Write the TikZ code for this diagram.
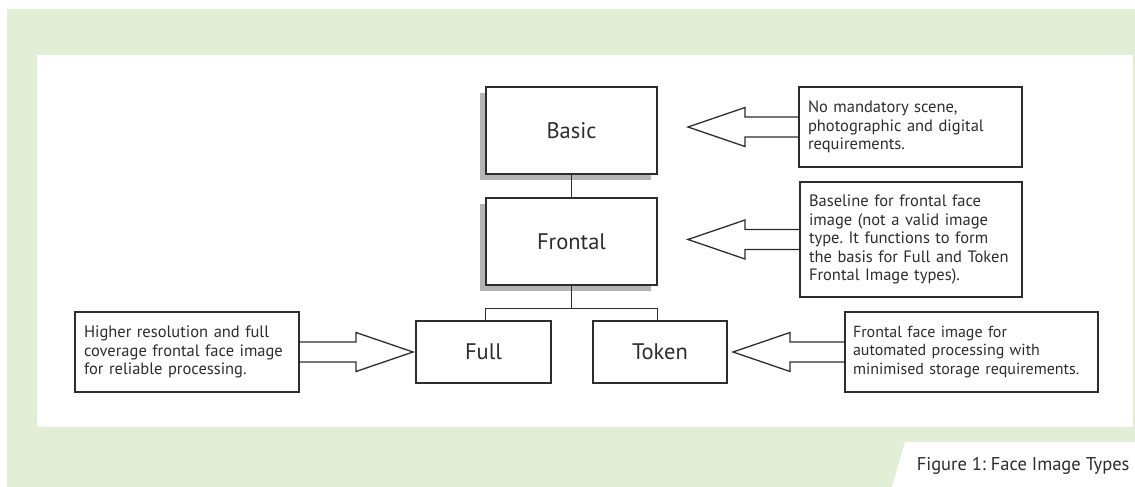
\documentclass[tikz,border=0pt]{standalone}
\usepackage{fontspec}
\setmainfont{PT Sans}
\frenchspacing
\hyphenpenalty=10000
\usetikzlibrary{calc,shadows}
\definecolor{panelgreen}{RGB}{226,238,214}
\definecolor{inkc}{RGB}{45,45,45}
\definecolor{shadowc}{RGB}{180,180,180}
% block arrow from a point on a callout edge (#1) to a tip coordinate (#2)
\newcommand\blockarrow[2]{%
  \draw[arrowline] let \p1=(#1), \p2=(#2), \n1={ifthenelse(\x1>\x2,1,-1)} in
    (\x1,\y1+10pt) -- (\x2+\n1*57pt,\y1+10pt) -- (\x2+\n1*57pt,\y1+19.5pt)
    -- (\x2,\y2) -- (\x2+\n1*57pt,\y1-19.5pt) -- (\x2+\n1*57pt,\y1-10pt)
    -- (\x1,\y1-10pt);}
\begin{document}
\begin{tikzpicture}[x=1pt,y=-1pt,
  every node/.style={text=inkc},
  typebox/.style={draw=inkc,line width=1.3pt,fill=white,inner sep=0pt,
    font=\fontsize{22.5}{26}\selectfont},
  shadowed/.style={drop shadow={shadow xshift=-6pt,shadow yshift=-6pt,
    fill=shadowc,opacity=1}},
  note/.style={draw=inkc,line width=1.3pt,fill=white,inner xsep=9pt,inner ysep=0pt,
    align=left,font=\fontsize{16.5}{18.5}\selectfont},
  link/.style={draw=inkc,line width=1.3pt},
  arrowline/.style={draw=inkc,line width=1.3pt,line join=miter}]
  \useasboundingbox (0,0) rectangle (1135,487);
  % panel background
  \fill[panelgreen] (7,9) rectangle (1135,487);
  \fill[white] (37,55) rectangle (1133,427);
  \fill[white] (905,442) -- (1135,442) -- (1135,487) -- (892,487) -- cycle;
  \node[anchor=east,font=\fontsize{18.5}{22}\selectfont] (caption) at (1133,466)
    {Figure 1: Face Image Types};

  % image type hierarchy
  \node[typebox,shadowed,minimum width=171pt,minimum height=87pt] (basic) at (571.5,130.5) {Basic};
  \node[typebox,shadowed,minimum width=171pt,minimum height=87pt] (frontal) at (571.5,241.5) {Frontal};
  \node[typebox,minimum width=135pt,minimum height=62pt] (full) at (483.5,352) {Full};
  \node[typebox,minimum width=134pt,minimum height=62pt] (token) at (660,352) {Token};

  \draw[link] (basic.south) -- (frontal.north);
  \coordinate (fork) at ($(frontal.south)+(0,23)$);
  \draw[link] (frontal.south) -- (fork);
  \draw[link] (full.north -| frontal.west) -- (fork -| frontal.west)
    -- (fork -| frontal.east) -- (token.north -| frontal.east);

  % descriptions
  \node[note,text width=205pt,minimum height=80pt] (nbasic) at (910.5,127)
    {No mandatory scene,\\photographic and digital\\requirements.};
  \node[note,text width=204pt,minimum height=115pt] (nfrontal) at (911,239.5)
    {Baseline for frontal face\\image (not a valid image\\type. It functions to form\\the basis for Full and Token\\Frontal Image types).};
  \node[note,text width=237pt,minimum height=80pt,inner xsep=8pt,
    font=\fontsize{16}{18.5}\selectfont] (ntoken) at (971.5,352)
    {Frontal face image for\\automated processing with\\minimised storage requirements.};
  \node[note,text width=206pt,minimum height=80pt] (nfull) at (187,352)
    {Higher resolution and full\\coverage frontal face image\\for reliable processing.};

  \coordinate (tbasic) at (688,127);
  \coordinate (tfrontal) at (688,239.5);
  \coordinate (ttoken) at (733,352);
  \coordinate (tfull) at (413,352);
  \blockarrow{nbasic.west}{tbasic}
  \blockarrow{nfrontal.west}{tfrontal}
  \blockarrow{ntoken.west}{ttoken}
  \blockarrow{nfull.east}{tfull}
\end{tikzpicture}
\end{document}
